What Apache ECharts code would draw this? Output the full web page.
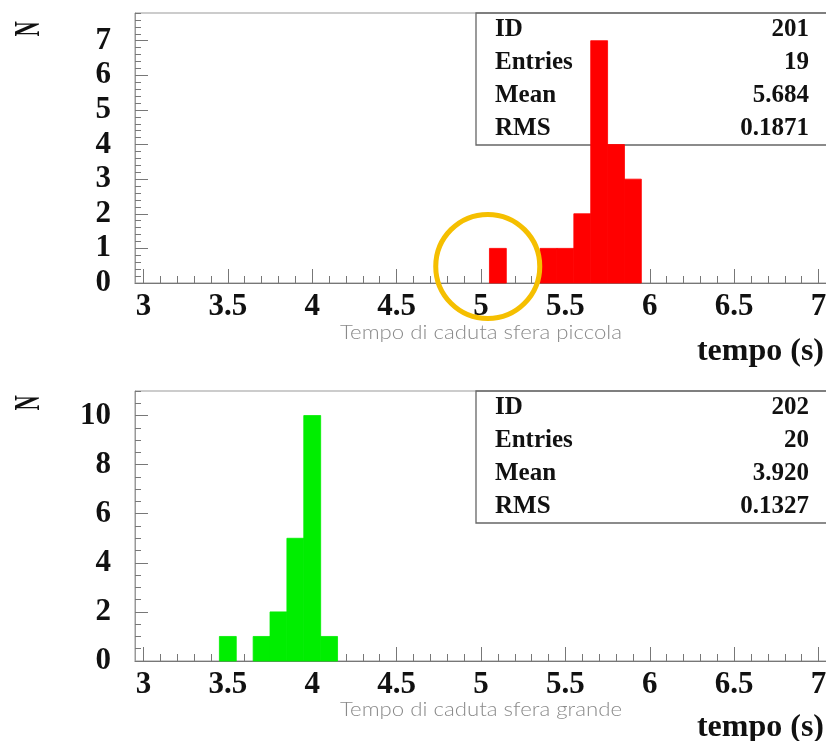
<!DOCTYPE html>
<html>
<head>
<meta charset="utf-8">
<script src="https://cdn.jsdelivr.net/npm/echarts@6/dist/echarts.min.js"></script>
<style>
html,body{margin:0;padding:0;background:#fff;}
#c{width:826px;height:741px;}
</style>
</head>
<body>
<div id="c"></div>
<script>
// ---- data (histogram bins of width 0.1, centres in seconds) ----
var smallCenters = [5.1, 5.4, 5.5, 5.6, 5.7, 5.8, 5.9];
var smallCounts  = [1, 1, 1, 2, 7, 4, 3];
var bigCenters   = [3.5, 3.7, 3.8, 3.9, 4.0, 4.1];
var bigCounts    = [1, 1, 2, 5, 10, 1];
var binWidth = 0.1;

var xTickValues = [3, 3.5, 4, 4.5, 5, 5.5, 6, 6.5, 7];
var xTickLabels = ['3', '3.5', '4', '4.5', '5', '5.5', '6', '6.5', '7'];
var yTopTicks   = [0, 1, 2, 3, 4, 5, 6, 7];
var yBotTicks   = [0, 2, 4, 6, 8, 10];

var statsSmall = [['ID', '201'], ['Entries', '19'], ['Mean', '5.684'], ['RMS', '0.1871']];
var statsBig   = [['ID', '202'], ['Entries', '20'], ['Mean', '3.920'], ['RMS', '0.1327']];

var titleSmall = 'Tempo di caduta sfera piccola';
var titleBig   = 'Tempo di caduta sfera grande';
var xName = 'tempo (s)';
var yName = 'N';

// ---- helpers ----
function steps(a, b, s) {
  var out = [];
  for (var v = a; v <= b + 1e-9; v += s) out.push(Math.round(v * 100) / 100);
  return out;
}
function pairs(c, n) { return c.map(function (v, i) { return [v, n[i]]; }); }

var serif = '"Liberation Serif", "DejaVu Serif", serif';
var labelStyle = { color: '#111', fontFamily: serif, fontWeight: 'bold', fontSize: 31 };

function xAxes(grid) {
  return [{
    gridIndex: grid, type: 'value', min: 2.95, max: 7.05, position: 'bottom',
    axisLine: { show: true, onZero: false, lineStyle: { color: '#777', width: 1.2 } },
    axisTick: { show: true, inside: true, length: 14, customValues: xTickValues, lineStyle: { color: '#777', width: 1 } },
    axisLabel: Object.assign({ show: true, margin: 8, customValues: xTickValues,
      formatter: function (v) { return xTickLabels[xTickValues.indexOf(Math.round(v * 10) / 10)] || ''; } }, labelStyle),
    splitLine: { show: false }
  }, {
    gridIndex: grid, type: 'value', min: 2.95, max: 7.05, position: 'bottom',
    axisLine: { show: false, onZero: false },
    axisTick: { show: true, inside: true, length: 7, customValues: steps(3, 7, 0.1), lineStyle: { color: '#777', width: 1 } },
    axisLabel: { show: false }, splitLine: { show: false }
  }];
}
function yAxes(grid, max, ticks, minorStep) {
  return [{
    gridIndex: grid, type: 'value', min: 0, max: max, position: 'left',
    axisLine: { show: true, onZero: false, lineStyle: { color: '#999', width: 1 } },
    axisTick: { show: true, inside: true, length: 13, customValues: ticks, lineStyle: { color: '#777', width: 1 } },
    axisLabel: Object.assign({ show: true, margin: 24, customValues: ticks }, labelStyle),
    splitLine: { show: false }
  }, {
    gridIndex: grid, type: 'value', min: 0, max: max, position: 'left',
    axisLine: { show: false, onZero: false },
    axisTick: { show: true, inside: true, length: 6, customValues: steps(0, max, minorStep), lineStyle: { color: '#777', width: 1 } },
    axisLabel: { show: false }, splitLine: { show: false }
  }];
}
function histSeries(xi, yi, data, color) {
  return {
    type: 'custom', xAxisIndex: xi, yAxisIndex: yi, data: data, z: 5,
    encode: { x: 0, y: 1 },
    renderItem: function (params, api) {
      var c = api.value(0), n = api.value(1);
      var p0 = api.coord([c - binWidth / 2, n]);
      var p1 = api.coord([c + binWidth / 2, 0]);
      return { type: 'rect', shape: { x: p0[0], y: p0[1], width: p1[0] - p0[0], height: p1[1] - p0[1] },
               style: { fill: color, stroke: color, lineWidth: 0.8 } };
    }
  };
}

var chart = echarts.init(document.getElementById('c'), null, { renderer: 'canvas' });

var grids = [
  { left: 135, top: 13, right: -1, height: 270, show: true, borderColor: '#999', borderWidth: 1, backgroundColor: 'transparent', outerBoundsMode: 'none' },
  { left: 135, top: 391, right: -1, height: 270, show: true, borderColor: '#999', borderWidth: 1, backgroundColor: 'transparent', outerBoundsMode: 'none' }
];

function statsBox(x, y, rows) {
  var els = [{ type: 'rect', shape: { x: x, y: y, width: 380, height: 132 },
               style: { fill: 'none', stroke: '#666', lineWidth: 1.3 }, z: 1 }];
  rows.forEach(function (r, i) {
    var cy = y + 17 + i * 33;
    els.push({ type: 'text', x: x + 19, y: cy, z: 10,
      style: { text: r[0], font: 'bold 25px ' + serif, fill: '#111', align: 'left', verticalAlign: 'middle' } });
    els.push({ type: 'text', x: x + 333, y: cy, z: 10,
      style: { text: r[1], font: 'bold 25px ' + serif, fill: '#111', align: 'right', verticalAlign: 'middle' } });
  });
  return els;
}

var thinFont = '300 19px Lato, "Open Sans", sans-serif';
var graphics = []
  .concat(statsBox(476, 13, statsSmall))
  .concat(statsBox(476, 391, statsBig))
  .concat([
    { type: 'text', x: 30, y: 29, rotation: Math.PI / 2, scaleX: 0.6, z: 10,
      style: { text: yName, font: 'bold 35px ' + serif, fill: '#111', align: 'center', verticalAlign: 'middle' } },
    { type: 'text', x: 30, y: 403, rotation: Math.PI / 2, scaleX: 0.6, z: 10,
      style: { text: yName, font: 'bold 35px ' + serif, fill: '#111', align: 'center', verticalAlign: 'middle' } },
    { type: 'text', x: 481, y: 333, scaleX: 1.17, z: 10,
      style: { text: titleSmall, font: thinFont, fill: '#8a8a8a', align: 'center', verticalAlign: 'middle' } },
    { type: 'text', x: 481, y: 710, scaleX: 1.17, z: 10,
      style: { text: titleBig, font: thinFont, fill: '#8a8a8a', align: 'center', verticalAlign: 'middle' } },
    { type: 'text', x: 824, y: 352, z: 10,
      style: { text: xName, font: 'bold 32px ' + serif, fill: '#111', align: 'right', verticalAlign: 'middle' } },
    { type: 'text', x: 824, y: 728, z: 10,
      style: { text: xName, font: 'bold 32px ' + serif, fill: '#111', align: 'right', verticalAlign: 'middle' } }
  ]);

chart.setOption({
  animation: false,
  backgroundColor: '#fff',
  grid: grids,
  xAxis: xAxes(0).concat(xAxes(1)),
  yAxis: yAxes(0, 7.8, yTopTicks, 0.2).concat(yAxes(1, 11, yBotTicks, 0.5)),
  series: [
    histSeries(0, 0, pairs(smallCenters, smallCounts), '#ff0000'),
    histSeries(2, 2, pairs(bigCenters, bigCounts), '#00ee00')
  ],
  graphic: graphics
});

// yellow highlight circle around the isolated bin at 5.1 s
var cpt = chart.convertToPixel({ xAxisIndex: 0, yAxisIndex: 0 }, [5.04, 0.48]);
chart.setOption({
  graphic: graphics.concat([{
    type: 'circle', z: 100, shape: { cx: cpt[0], cy: cpt[1], r: 52 },
    style: { fill: 'none', stroke: '#f5bf00', lineWidth: 5 }
  }])
});
</script>
</body>
</html>
